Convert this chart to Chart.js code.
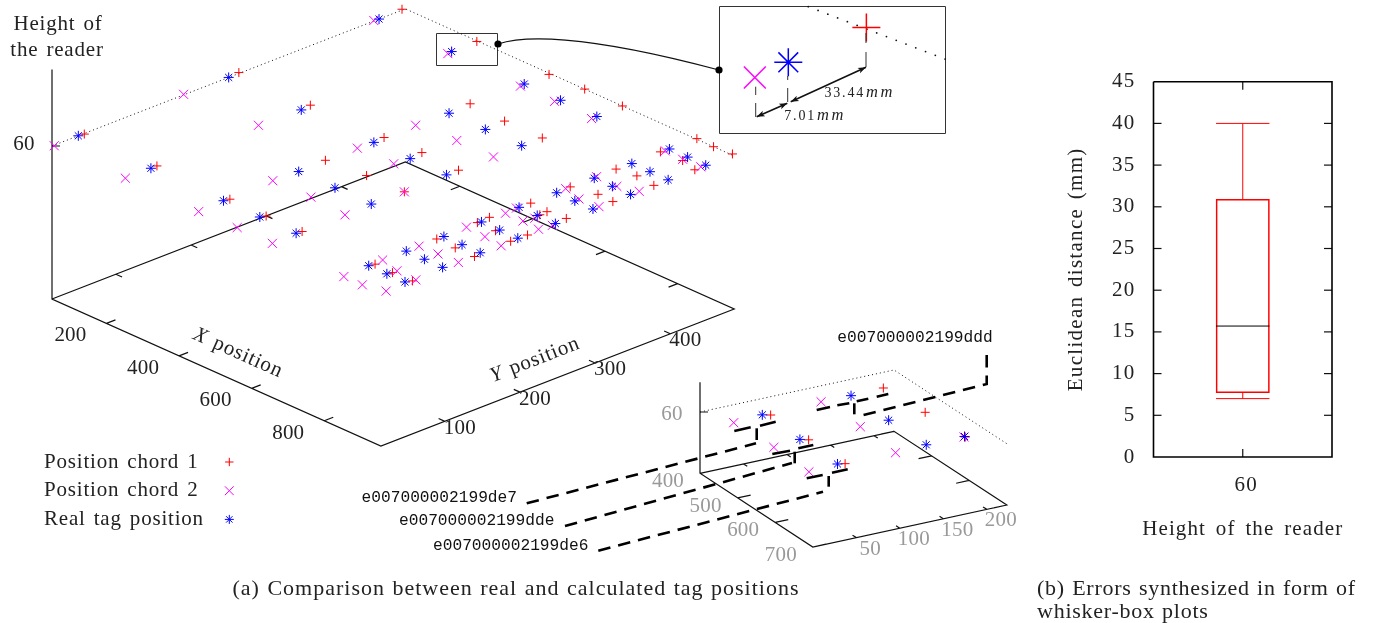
<!DOCTYPE html>
<html>
<head>
<meta charset="utf-8">
<title>Tag positions</title>
<script src="https://cdn.jsdelivr.net/npm/chart.js@4/dist/chart.umd.js"></script>
<style>
  html, body { margin: 0; padding: 0; background: #fff; overflow: hidden; }
  canvas { position: absolute; }
  #page { left: 0; top: 0; }
  #box { left: 1050px; top: 60px; }
</style>
</head>
<body>
<canvas id="page" width="1373" height="623"></canvas>
<canvas id="box" width="323" height="490"></canvas>
<script>
// main plot, reader at 60, positions
const realX = [50, 250, 450, 550, 650, 50, 250, 450, 450, 550, 650, 50, 250, 450, 550, 650, 450, 550, 650, 550, 650,
  850, 900, 950, 850, 900, 950, 850, 900, 950, 850, 900, 950, 850, 900, 950, 850, 900, 950, 850, 900, 950, 850, 900, 950, 850, 900, 950];
const realY = [50, 50, 50, 50, 50, 250, 250, 250, 150, 150, 150, 450, 450, 450, 450, 450, 350, 350, 350, 250, 250,
  450, 450, 450, 400, 400, 400, 350, 350, 350, 300, 300, 300, 250, 250, 250, 200, 200, 200, 150, 150, 150, 100, 100, 100, 50, 50, 50];
const chord1X = [52, 250, 453, 555, 652, 47, 246, 447, 447, 550, 652, 47, 249, 450, 544, 648, 446, 547, 651, 545, 650,
  851, 899, 947, 848, 905, 951, 848, 897, 950, 848, 908, 951, 851, 900, 947, 901, 845, 952, 847, 897, 951, 849, 902, 955, 853, 903, 956];
const chord1Y = [57, 58, 57, 56, 57, 265, 264, 265, 187, 192, 193, 482, 484, 483, 485, 485, 380, 377, 377, 268, 266,
  486, 485, 487, 439, 441, 435, 380, 384, 381, 319, 327, 326, 265, 263, 266, 253, 213, 212, 196, 196, 190, 141, 140, 140, 57, 56, 57];
const chord2X = [52, 250, 454, 556, 653, 48, 246, 448, 447, 550, 652, 48, 546, 849, 854, 905, 956, 903, 252, 452, 546, 650,
  447, 550, 651, 652, 851, 901, 949, 848, 906, 951, 848, 899, 950, 849, 906, 952, 852, 900, 947, 848, 903, 954, 850, 900, 954, 957];
const chord2Y = [17, 16, 15, 17, 17, 191, 195, 229, 117, 118, 114, 444, 230, 69, 15, 15, 22, 62, 444, 444, 444, 443,
  307, 312, 312, 193, 444, 443, 444, 354, 353, 361, 313, 306, 308, 247, 244, 245, 231, 231, 229, 181, 179, 176, 117, 118, 119, 61];

const xTicks = [200, 400, 600, 800];
const yTicks = [100, 200, 300, 400];
const zTicks = [60];

// small plot, four labelled tags
const tagRealX = [450, 550, 650, 450, 550, 650, 650];
const tagRealY = [50, 50, 50, 152, 152, 152, 196];
const tagChord1X = [456, 557, 654, 448, 550, 652];
const tagChord1Y = [57, 57, 57, 190, 194, 196];
const tagChord2X = [455, 557, 655, 449, 551, 654, 651];
const tagChord2Y = [15, 17, 15, 118, 119, 115, 195];
const tagXTicks = [400, 500, 600, 700];
const tagYTicks = [50, 100, 150, 200];
const tagNames = ["e007000002199ddd", "e007000002199de7", "e007000002199dde", "e007000002199de6"];

// magnified tag, spread out around the real position
const zoomChord1 = [246, 480];
const zoomChord2 = [252, 437];
const zoomReal = [250, 450];

// whisker box
const heights = ["60"];
const whiskerLow = [7];
const quartile1 = [7.7];
const median = [15.7];
const quartile3 = [30.9];
const whiskerHigh = [40];

const RED = "#ff0000";
const MAGENTA = "#ff00ff";
const BLUE = "#0000ff";
const INK = "#222222";
const SERIF = '"Liberation Serif", serif';
const MONO = '"Liberation Mono", monospace';

// oblique views of the X/Y plane: returns canvas position
const mainRange = { x0: 50, x1: 956, y0: 15, y1: 485, z1: 90 };
function projectMain(x, y, z) {
  return {
    x: 52 + 0.363 * (x - mainRange.x0) + 0.7518 * (y - mainRange.y0),
    y: 299 + 0.1624 * (x - mainRange.x0) - 0.2918 * (y - mainRange.y0) - 2.55 * z,
  };
}
const tagRange = { x0: 400, x1: 700, y0: 0, y1: 223, z1: 89 };
function projectTag(x, y, z) {
  return {
    x: 700 + 0.376 * (x - tagRange.x0) + 0.87 * (y - tagRange.y0),
    y: 473.3 + 0.2457 * (x - tagRange.x0) - 0.1883 * (y - tagRange.y0) - 1.022 * z,
  };
}
function projectZoom(x, y) {
  const dx = x - zoomReal[0];
  const dy = y - zoomReal[1];
  return {
    x: 788.3 + 3.7 * (0.363 * dx + 0.7518 * dy),
    y: 62.3 + 3.7 * (0.1624 * dx - 0.2918 * dy),
  };
}

const GAP = { x: NaN, y: NaN };

// base frame, z axis and tick marks of one oblique plot
function frameLines(project, r, xt, yt, zt, xLen, yLen) {
  const p = project;
  const pts = [
    p(r.x0, r.y0, r.z1), p(r.x0, r.y0, 0), p(r.x1, r.y0, 0), p(r.x1, r.y1, 0), p(r.x0, r.y1, 0), p(r.x0, r.y0, 0), GAP,
  ];
  xt.forEach((t) => {
    pts.push(p(t, r.y0, 0), p(t, r.y0 + yLen, 0), GAP, p(t, r.y1, 0), p(t, r.y1 - yLen, 0), GAP);
  });
  yt.forEach((t) => {
    pts.push(p(r.x0, t, 0), p(r.x0 + xLen, t, 0), GAP, p(r.x1, t, 0), p(r.x1 - xLen, t, 0), GAP);
  });
  zt.forEach((t) => {
    const a = p(r.x0, r.y0, t);
    pts.push(a, { x: a.x + 8, y: a.y }, GAP);
  });
  return pts;
}
function dottedLines(project, r) {
  return [project(r.x0, r.y0, 60), project(r.x0, r.y1, 60), project(r.x1, r.y1, 60)];
}
function toPoints(xs, ys, project) {
  return xs.map((x, i) => project(x, ys[i], 60));
}

function lineSet(data, width, dash) {
  return {
    data: data,
    showLine: true,
    spanGaps: false,
    borderColor: "#111",
    borderWidth: width,
    borderDash: dash || [],
    pointRadius: 0,
    order: 5,
  };
}
function markSet(data, style, color, radius, width) {
  return {
    data: data,
    showLine: false,
    pointStyle: style,
    pointRadius: radius,
    pointBorderColor: color,
    pointBackgroundColor: color,
    pointBorderWidth: width || 1,
    order: style === "star" ? 1 : style === "crossRot" ? 2 : 3,
  };
}

function setSpacing(ctx, letter, word) {
  ctx.letterSpacing = letter + "px";
  ctx.wordSpacing = (word || 0) + "px";
}

function drawText(ctx, str, x, y, font, color, align, angle) {
  ctx.save();
  ctx.translate(x, y);
  ctx.rotate(angle || 0);
  ctx.font = font;
  ctx.fillStyle = color || INK;
  ctx.textAlign = align || "center";
  ctx.textBaseline = "middle";
  ctx.fillText(str, 0, 0);
  ctx.restore();
}

// axis title with an italic letter, turned along the axis
function drawAxisName(ctx, letter, rest, x, y, angle) {
  const italic = `italic 21px ${SERIF}`;
  const plain = `21px ${SERIF}`;
  ctx.save();
  ctx.translate(x, y);
  ctx.rotate(angle);
  ctx.textBaseline = "middle";
  ctx.textAlign = "left";
  ctx.fillStyle = INK;
  ctx.font = italic;
  const w1 = ctx.measureText(letter).width;
  ctx.font = plain;
  const w2 = ctx.measureText(rest).width;
  ctx.font = italic;
  ctx.fillText(letter, -(w1 + w2) / 2, 0);
  ctx.font = plain;
  ctx.fillText(rest, -(w1 + w2) / 2 + w1, 0);
  ctx.restore();
}

// distance text of the magnifier, number then italic unit
function drawDistance(ctx, num, unit, x, y) {
  ctx.save();
  ctx.textBaseline = "middle";
  ctx.textAlign = "left";
  ctx.fillStyle = INK;
  setSpacing(ctx, 1.8);
  ctx.font = `14px ${SERIF}`;
  const w1 = ctx.measureText(num).width;
  ctx.fillText(num, x - w1 - 1, y);
  setSpacing(ctx, 2.5);
  ctx.font = `italic 16.5px ${SERIF}`;
  ctx.fillText(unit, x, y);
  ctx.restore();
}

function strokePath(ctx, points, width, color, dash) {
  ctx.save();
  ctx.beginPath();
  ctx.lineWidth = width;
  ctx.strokeStyle = color;
  ctx.setLineDash(dash || []);
  points.forEach((p, i) => (i ? ctx.lineTo(p[0], p[1]) : ctx.moveTo(p[0], p[1])));
  ctx.stroke();
  ctx.restore();
}

function arrowHead(ctx, x, y, fromX, fromY) {
  const a = Math.atan2(y - fromY, x - fromX);
  ctx.save();
  ctx.translate(x, y);
  ctx.rotate(a);
  ctx.fillStyle = "#111";
  ctx.beginPath();
  ctx.moveTo(0, 0);
  ctx.lineTo(-8, -3);
  ctx.lineTo(-6, 0);
  ctx.lineTo(-8, 3);
  ctx.closePath();
  ctx.fill();
  ctx.restore();
}

// ticks text, legend, callouts and captions of the left figure
const pageNotes = {
  id: "pageNotes",
  beforeDatasetsDraw(chart) {
    const ctx = chart.ctx;
    // magnifier frames and connecting curve
    strokePath(ctx, [[436.5, 33.5], [497.5, 33.5], [497.5, 65.5], [436.5, 65.5], [436.5, 33.5]], 1, "#333");
    strokePath(ctx, [[719.5, 6.5], [945.5, 6.5], [945.5, 133.5], [719.5, 133.5], [719.5, 6.5]], 1, "#333");
    ctx.save();
    ctx.beginPath();
    ctx.moveTo(498, 44);
    ctx.bezierCurveTo(522, 36, 580, 33, 719, 70);
    ctx.lineWidth = 1.2;
    ctx.strokeStyle = "#111";
    ctx.stroke();
    ctx.fillStyle = "#000";
    [[498, 44], [719, 70]].forEach((p) => {
      ctx.beginPath();
      ctx.arc(p[0], p[1], 3.6, 0, Math.PI * 2);
      ctx.fill();
    });
    ctx.restore();
    // dotted frame edge inside the magnifier
    ctx.save();
    ctx.fillStyle = "#111";
    for (let i = 0; i < 15; i++) {
      ctx.beginPath();
      ctx.arc(808.3 + i * 9.77, 6.7 + i * 3.74, 0.9, 0, Math.PI * 2);
      ctx.fill();
    }
    ctx.restore();
  },
  afterDatasetsDraw(chart) {
    const ctx = chart.ctx;
    const tickFont = `21px ${SERIF}`;
    const grey = "#999999";
    setSpacing(ctx, 0.2);

    // main plot tick labels
    xTicks.forEach((t) => {
      const p = projectMain(t, mainRange.y0, 0);
      drawText(ctx, String(t), p.x - 36, p.y + 12.5, tickFont);
    });
    yTicks.forEach((t) => {
      const p = projectMain(mainRange.x1, t, 0);
      drawText(ctx, String(t), p.x + 15, p.y + 7, tickFont);
    });
    drawText(ctx, "60", 24, 144, tickFont);

    // small plot tick labels
    tagXTicks.forEach((t) => {
      const p = projectTag(t, tagRange.y0, 0);
      drawText(ctx, String(t), p.x - 32, p.y + 8.4, tickFont, grey);
    });
    tagYTicks.forEach((t) => {
      const p = projectTag(tagRange.x1, t, 0);
      drawText(ctx, String(t), p.x + 14, p.y + 11.5, tickFont, grey);
    });
    drawText(ctx, "60", 672, 414, tickFont, grey);

    setSpacing(ctx, 0.8, 2);
    drawText(ctx, "Height of", 58, 24, tickFont);
    drawText(ctx, "the reader", 57, 50, tickFont);
    drawAxisName(ctx, "X", " position", 238, 353, 0.42);
    drawAxisName(ctx, "Y", " position", 535, 360, -0.37);

    // legend
    const legend = [
      ["Position chord 1", "cross", RED, 4.2],
      ["Position chord 2", "crossRot", MAGENTA, 6.2],
      ["Real tag position", "star", BLUE, 4.5],
    ];
    legend.forEach((row, i) => {
      const y = 462 + i * 28.7;
      drawText(ctx, row[0], 44, y, tickFont, INK, "left");
      ctx.save();
      ctx.strokeStyle = row[2];
      ctx.lineWidth = 1;
      Chart.helpers.drawPoint(ctx, { pointStyle: row[1], radius: row[3], borderWidth: 1 }, 229.3, y);
      ctx.restore();
    });

    // tag callouts
    const dash = [12.5, 8];
    const w = 2.6;
    strokePath(ctx, [[986.7, 355], [986.7, 384], [860, 416]], w, "#000", dash);
    strokePath(ctx, [[526.7, 503.3], [756, 443.3]], w, "#000", dash);
    strokePath(ctx, [[565, 526], [792, 463]], w, "#000", dash);
    strokePath(ctx, [[598.3, 550.7], [823, 491.7]], w, "#000", dash);
    const solid = [
      [[854.3, 403.3], [854.3, 414.3]],
      [[756.7, 428.3], [756.7, 440]],
      [[794.7, 451.7], [794.7, 463.3]],
      [[828.7, 476], [828.7, 486.7]],
      [[734.3, 431], [750.7, 427.3]], [[760, 425.7], [775.7, 421.7]],
      [[772.3, 454], [790, 450.7]], [[798.3, 448.3], [813.3, 445]],
      [[806.7, 478.3], [822.7, 475]], [[832, 472.7], [847.7, 469.3]],
      [[816.7, 410], [830, 407]], [[837.3, 405.3], [849.3, 403.3]], [[856.7, 401.3], [868.3, 398.7]], [[876.7, 396.7], [888.3, 394]],
    ];
    solid.forEach((s) => strokePath(ctx, s, w, "#000"));
    const tagFont = `16.2px ${MONO}`;
    setSpacing(ctx, 0);
    drawText(ctx, tagNames[0], 915, 338, tagFont, "#111");
    drawText(ctx, tagNames[1], 439.3, 497.7, tagFont, "#111");
    drawText(ctx, tagNames[2], 476.7, 521, tagFont, "#111");
    drawText(ctx, tagNames[3], 510.7, 546, tagFont, "#111");

    // guide lines and distances inside the magnifier
    const thin = [[755.7, 86.7, 95], [755.7, 103, 117], [787.7, 76, 80], [787.7, 88, 102], [866, 33, 43], [866, 52, 67]];
    thin.forEach((s) => strokePath(ctx, [[s[0], s[1]], [s[0], s[2]]], 1, "#333"));
    strokePath(ctx, [[756.7, 116.7], [787.3, 103.3]], 1.6, "#111");
    arrowHead(ctx, 756.7, 116.7, 787.3, 103.3);
    arrowHead(ctx, 787.3, 103.3, 756.7, 116.7);
    strokePath(ctx, [[790.7, 101.7], [866, 67.3]], 1.6, "#111");
    arrowHead(ctx, 790.7, 101.7, 866, 67.3);
    arrowHead(ctx, 866, 67.3, 790.7, 101.7);
    drawDistance(ctx, "33.44", "mm", 866, 93);
    drawDistance(ctx, "7.01", "mm", 817, 116);

    // captions
    setSpacing(ctx, 1, 1);
    const captionFont = `22px ${SERIF}`;
    drawText(ctx, "(a) Comparison between real and calculated tag positions", 516, 589, captionFont);
    setSpacing(ctx, 0.75, 1);
    drawText(ctx, "(b) Errors synthesized in form of", 1037, 589, captionFont, INK, "left");
    drawText(ctx, "whisker-box plots", 1037, 612, captionFont, INK, "left");
    setSpacing(ctx, 0);
  },
};

new Chart(document.getElementById("page").getContext("2d"), {
  type: "scatter",
  data: {
    datasets: [
      markSet(toPoints(realX, realY, projectMain), "star", BLUE, 5),
      markSet(toPoints(chord2X, chord2Y, projectMain), "crossRot", MAGENTA, 6.4),
      markSet(toPoints(chord1X, chord1Y, projectMain), "cross", RED, 4.5),
      lineSet(frameLines(projectMain, mainRange, xTicks, yTicks, zTicks, 17, 12), 1.2),
      lineSet(dottedLines(projectMain, mainRange), 1, [1, 3]),
      markSet(toPoints(tagRealX, tagRealY, projectTag), "star", BLUE, 5),
      markSet(toPoints(tagChord2X, tagChord2Y, projectTag), "crossRot", MAGENTA, 6.4),
      markSet(toPoints(tagChord1X, tagChord1Y, projectTag), "cross", RED, 4.5),
      lineSet(frameLines(projectTag, tagRange, tagXTicks, tagYTicks, zTicks, 10, 15), 1.2),
      lineSet(dottedLines(projectTag, tagRange), 1, [1, 3]),
      markSet([projectZoom(zoomReal[0], zoomReal[1])], "star", BLUE, 14, 1.5),
      markSet([projectZoom(zoomChord2[0], zoomChord2[1])], "crossRot", MAGENTA, 15.5, 1.5),
      markSet([projectZoom(zoomChord1[0], zoomChord1[1])], "cross", RED, 14, 1.5),
    ],
  },
  options: {
    responsive: false,
    animation: false,
    devicePixelRatio: 1,
    layout: { padding: 0, autoPadding: false },
    plugins: { legend: { display: false }, tooltip: { enabled: false } },
    scales: {
      x: { type: "linear", display: false, min: 0, max: 1373 },
      y: { type: "linear", display: false, min: 0, max: 623, reverse: true },
    },
  },
  plugins: [pageNotes],
});

// frame, inward ticks, whiskers and median of the box plot
const boxParts = {
  id: "boxParts",
  beforeDraw(chart) {
    setSpacing(chart.ctx, 1.3, 2);
  },
  afterDatasetsDraw(chart) {
    const ctx = chart.ctx;
    const a = chart.chartArea;
    const xs = chart.scales.x;
    const ys = chart.scales.y;
    const c = xs.getPixelForValue(0);
    const half = 26.7;
    const yAt = (v) => ys.getPixelForValue(v);
    setSpacing(ctx, 0);

    strokePath(ctx, [[c, yAt(quartile3[0])], [c, yAt(whiskerHigh[0])]], 1, RED);
    strokePath(ctx, [[c - half, yAt(whiskerHigh[0])], [c + half, yAt(whiskerHigh[0])]], 1, RED);
    strokePath(ctx, [[c, yAt(quartile1[0])], [c, yAt(whiskerLow[0])]], 1, RED);
    strokePath(ctx, [[c - half, yAt(whiskerLow[0])], [c + half, yAt(whiskerLow[0])]], 1, RED);
    strokePath(ctx, [[c - half, yAt(median[0])], [c + half, yAt(median[0])]], 1, "#000");

    ys.ticks.forEach((t) => {
      const y = yAt(t.value);
      if (t.value > 0 && t.value < 45) {
        strokePath(ctx, [[a.left, y], [a.left + 8, y]], 1.2, "#111");
        strokePath(ctx, [[a.right, y], [a.right - 8, y]], 1.2, "#111");
      }
    });
    strokePath(ctx, [[c, a.top], [c, a.top + 8]], 1.2, "#111");
    strokePath(ctx, [[c, a.bottom], [c, a.bottom - 8]], 1.2, "#111");
    strokePath(ctx, [[a.left, a.top], [a.right, a.top], [a.right, a.bottom], [a.left, a.bottom], [a.left, a.top]], 1.6, "#000");

    setSpacing(ctx, 1.1, 3.5);
    drawText(ctx, "Height of the reader", c, 469, `21px ${SERIF}`);
    setSpacing(ctx, 0);
  },
};

new Chart(document.getElementById("box").getContext("2d"), {
  type: "bar",
  data: {
    labels: heights,
    datasets: [
      {
        data: quartile1.map((q, i) => [q, quartile3[i]]),
        backgroundColor: "rgba(0,0,0,0)",
        borderColor: RED,
        borderWidth: 1,
        borderSkipped: false,
        barThickness: 53.4,
      },
    ],
  },
  options: {
    responsive: false,
    animation: false,
    devicePixelRatio: 1,
    layout: { padding: { top: 21.7, right: 41, left: 0, bottom: 0 }, autoPadding: false },
    plugins: { legend: { display: false }, tooltip: { enabled: false } },
    scales: {
      x: {
        grid: { display: false, drawTicks: false },
        border: { display: false },
        ticks: { color: INK, font: { family: SERIF, size: 21 }, padding: 16, labelOffset: 3.5 },
        afterFit(scale) {
          scale.height = 93;
          scale.paddingLeft = 0;
          scale.paddingRight = 0;
        },
      },
      y: {
        min: 0,
        max: 45,
        grid: { display: false, drawTicks: false },
        border: { display: false },
        ticks: { stepSize: 5, color: INK, font: { family: SERIF, size: 21 }, padding: 18 },
        title: {
          display: true,
          text: "Euclidean distance (mm)",
          color: INK,
          font: { family: SERIF, size: 21 },
          padding: { top: 14, bottom: 0 },
        },
        afterFit(scale) {
          scale.width = 103.5;
          scale.paddingTop = 0;
          scale.paddingBottom = 0;
        },
      },
    },
  },
  plugins: [boxParts],
});
</script>
</body>
</html>
